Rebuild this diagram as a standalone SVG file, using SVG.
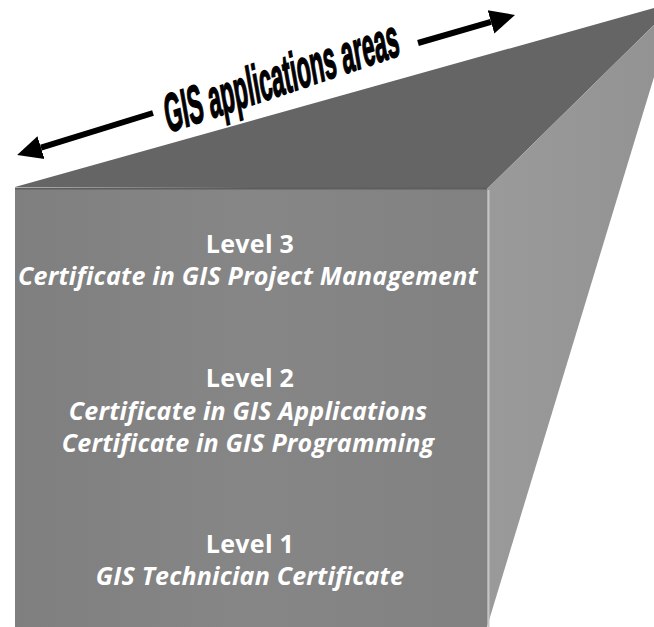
<svg xmlns="http://www.w3.org/2000/svg" width="654" height="627" viewBox="0 0 654 627">
  <defs>
    <style>
      .lvl { font-family: "Open Sans", "Lato", sans-serif; font-weight: bold; font-size: 25px; letter-spacing: 0.3px; fill: #ffffff; text-anchor: middle; }
      .cert { font-family: "Open Sans", "Lato", sans-serif; font-weight: bold; font-style: italic; font-size: 25px; letter-spacing: 0.2px; fill: #ffffff; text-anchor: middle; }
      .title { font-family: "Liberation Sans", Arial, sans-serif; font-weight: bold; font-size: 54px; fill: #000000; stroke: #000000; stroke-width: 1.6; }
      .shaft { stroke: #000000; stroke-width: 6; fill: none; }
    </style>
    <marker id="head" markerUnits="userSpaceOnUse" markerWidth="26" markerHeight="26" refX="0" refY="12" orient="auto" viewBox="0 0 26 24">
      <path d="M0,0 L25,12 L0,24 Z" fill="#000000"/>
    </marker>
    <linearGradient id="frontGrad" x1="0" y1="0" x2="1" y2="0">
      <stop offset="0" stop-color="#7f7f7f"/>
      <stop offset="0.5" stop-color="#868686"/>
      <stop offset="1" stop-color="#818181"/>
    </linearGradient>
    <linearGradient id="sideGrad" x1="0" y1="0" x2="1" y2="0">
      <stop offset="0" stop-color="#9a9a9a"/>
      <stop offset="1" stop-color="#939393"/>
    </linearGradient>
  </defs>

  <rect x="0" y="0" width="654" height="627" fill="#ffffff"/>

  <g id="box">
    <polygon id="top-face" points="15,187 487,189 654,25 654,8" fill="#656565"/>
    <polygon id="side-face" points="487,189 654,25 654,77 487,627" fill="url(#sideGrad)"/>
    <rect id="front-face" x="15" y="189" width="472" height="438" fill="url(#frontGrad)"/>
    <line x1="15" y1="188.5" x2="487" y2="188.5" stroke="#5e5e5e" stroke-width="2"/>
    <line x1="488.5" y1="190" x2="488.5" y2="627" stroke="#c4c4c4" stroke-width="2"/>
  </g>

  <g id="level3">
    <text class="lvl" x="250" y="253">Level 3</text>
    <text class="cert" x="248" y="285">Certificate in GIS Project Management</text>
  </g>
  <g id="level2">
    <text class="lvl" x="250" y="387">Level 2</text>
    <text class="cert" x="248" y="420">Certificate in GIS Applications</text>
    <text class="cert" x="248" y="452">Certificate in GIS Programming</text>
  </g>
  <g id="level1">
    <text class="lvl" x="250" y="553">Level 1</text>
    <text class="cert" x="250" y="585">GIS Technician Certificate</text>
  </g>

  <g id="title">
    <text class="title" transform="translate(168,133) rotate(-10) skewY(-8.5) scale(0.42,1)">GIS applications areas</text>
  </g>

  <g id="connectors">
    <line class="shaft" x1="153" y1="113" x2="41" y2="147.6" marker-end="url(#head)"/>
    <line class="shaft" x1="418" y1="43" x2="491" y2="21.9" marker-end="url(#head)"/>
  </g>
</svg>
